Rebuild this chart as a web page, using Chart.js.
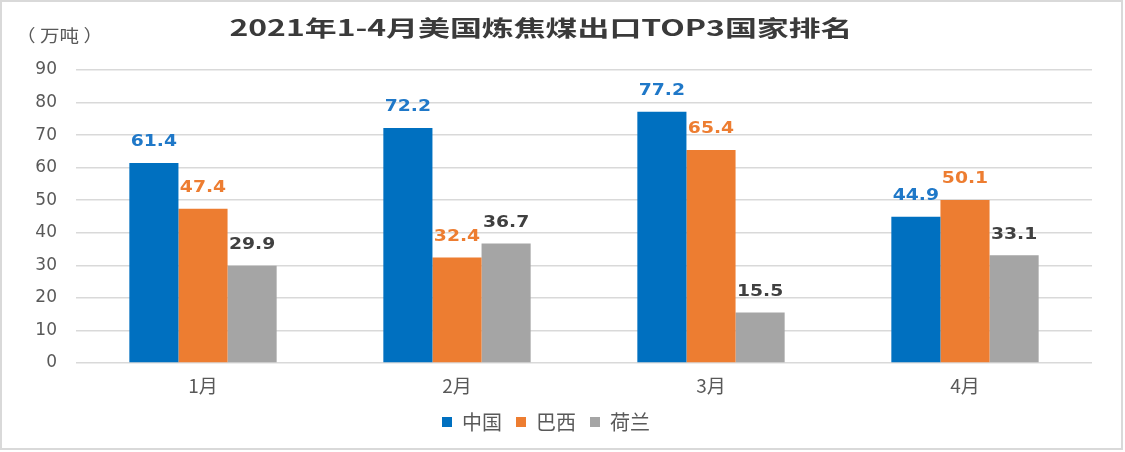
<!DOCTYPE html>
<html>
<head>
<meta charset="utf-8">
<script src="https://cdn.jsdelivr.net/npm/chart.js@4.4.1/dist/chart.umd.min.js"></script>
<style>
  html, body { margin: 0; padding: 0; background: #fff; }
  #box { width: 1125px; height: 452px; position: relative; }
</style>
</head>
<body>
<div id="box"><canvas id="coal" width="1125" height="452"></canvas></div>
<script>
// months on the x axis
const months = ["1月", "2月", "3月", "4月"];
// export volume, 万吨
const china = [61.4, 72.2, 77.2, 44.9];
const brazil = [47.4, 32.4, 65.4, 50.1];
const netherlands = [29.9, 36.7, 15.5, 33.1];
const yTicks = [0, 10, 20, 30, 40, 50, 60, 70, 80, 90];

const cjk = '"Noto Sans CJK SC", "DejaVu Sans", sans-serif';

// the source picture has wide, stretched lettering
function wideText(ctx, text, x, y, sx) {
    ctx.save();
    ctx.translate(x, y);
    ctx.scale(sx, 1);
    ctx.fillText(text, 0, 0);
    ctx.restore();
}

// title, unit text, frame and the value labels over each bar
const extras = {
    id: 'extras',
    afterDraw(chart) {
        const ctx = chart.ctx;
        ctx.save();
        ctx.strokeStyle = '#d9d9d9';
        ctx.lineWidth = 2;
        ctx.strokeRect(1, 1, 1121, 448);

        ctx.fillStyle = '#3a3a3a';
        ctx.font = 'bold 22px ' + cjk;
        ctx.textAlign = 'center';
        ctx.textBaseline = 'middle';
        wideText(ctx, '2021年1-4月美国炼焦煤出口TOP3国家排名', 541, 28, 1.45);

        ctx.fillStyle = '#595959';
        ctx.font = '17px ' + cjk;
        ctx.textAlign = 'left';
        wideText(ctx, '（ 万吨 ）', 16, 36, 1.15);

        ctx.font = 'bold 15px "DejaVu Sans", sans-serif';
        ctx.textAlign = 'center';
        ctx.textBaseline = 'bottom';
        const labelColors = ['#1F78C8', '#ED7D31', '#404040'];
        chart.data.datasets.forEach((ds, i) => {
            const meta = chart.getDatasetMeta(i);
            meta.data.forEach((bar, j) => {
                ctx.fillStyle = labelColors[i];
                wideText(ctx, ds.data[j].toFixed(1), bar.x, bar.y - 13, 1.25);
            });
        });
        ctx.restore();
    }
};

const bars = document.getElementById("coal");

let chart = new Chart(bars, {
    type: 'bar',
    data: {
        labels: months,
        datasets: [
            { label: '中国', data: china, backgroundColor: '#0070C0' },
            { label: '巴西', data: brazil, backgroundColor: '#ED7D31' },
            { label: '荷兰', data: netherlands, backgroundColor: '#A5A5A5' }
        ]
    },
    options: {
        responsive: false,
        animation: false,
        layout: { padding: { top: 70, right: 33, left: 0, bottom: 10 } },
        datasets: { bar: { categoryPercentage: 0.58, barPercentage: 1.0 } },
        scales: {
            x: {
                grid: { display: false },
                border: { display: false },
                ticks: { color: '#595959', font: { size: 19, family: cjk }, padding: 3 },
                afterFit(scale) { scale.height = 35; }
            },
            y: {
                min: 0,
                max: 90,
                afterBuildTicks(scale) { scale.ticks = yTicks.map(v => ({ value: v })); },
                grid: { color: '#d9d9d9', lineWidth: 1.5, drawTicks: false },
                border: { display: false },
                ticks: { color: '#595959', font: { size: 17, family: '"DejaVu Sans", sans-serif' }, padding: 19 },
                afterFit(scale) { scale.width = 76; }
            }
        },
        plugins: {
            title: { display: false },
            tooltip: { enabled: false },
            legend: {
                position: 'bottom',
                labels: {
                    boxWidth: 10,
                    boxHeight: 10,
                    padding: 14,
                    color: '#595959',
                    font: { size: 20, family: cjk }
                }
            }
        }
    },
    plugins: [extras]
});
</script>
</body>
</html>
